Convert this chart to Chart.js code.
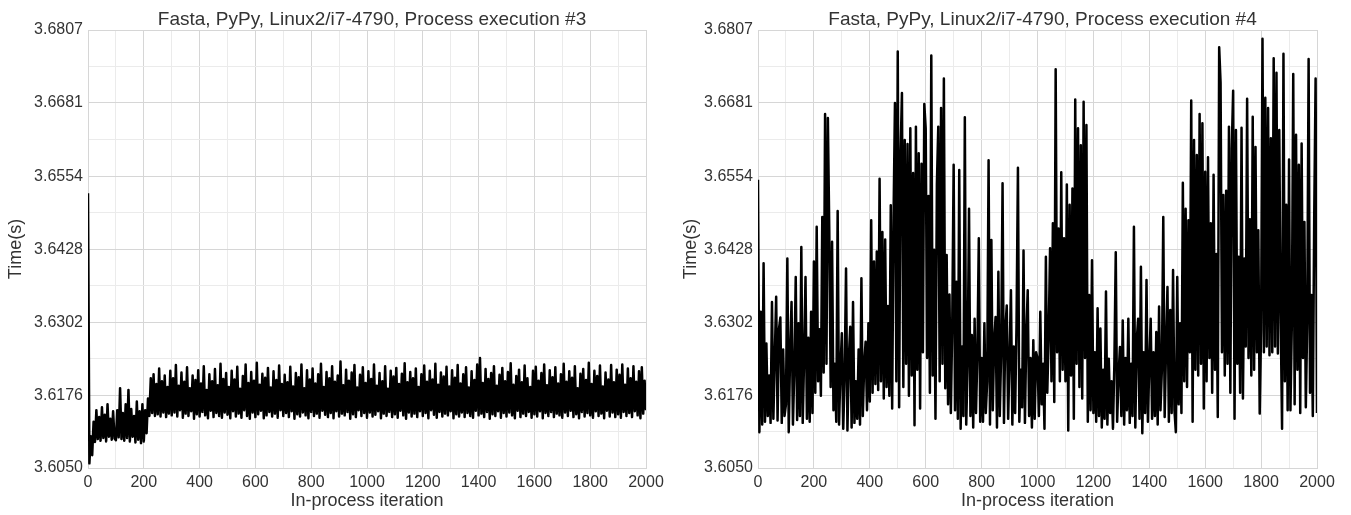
<!DOCTYPE html>
<html>
<head>
<meta charset="utf-8">
<script src="https://cdn.jsdelivr.net/npm/chart.js@4.4.1/dist/chart.umd.min.js"></script>
<style>
  body { margin: 0; background: #fff; }
  #wrap { position: relative; width: 1351px; height: 515px; }
  canvas { position: absolute; top: 0; }
  #exec3 { left: 0; }
  #exec4 { left: 675px; }
</style>
</head>
<body>
<div id="wrap">
  <canvas id="exec3" width="675" height="515"></canvas>
  <canvas id="exec4" width="676" height="515"></canvas>
</div>
<script>
// one value every iterStep iterations
const iterStep = 5;

const yTickLabels = ['3.6050', '3.6176', '3.6302', '3.6428', '3.6554', '3.6681', '3.6807'];
const xTickLabels = [0, 200, 400, 600, 800, 1000, 1200, 1400, 1600, 1800, 2000];

const titles = [
  'Fasta, PyPy, Linux2/i7-4790, Process execution #3',
  'Fasta, PyPy, Linux2/i7-4790, Process execution #4'
];

// Process execution #3
const exec3Times = [
  3.6525, 3.6058, 3.6105, 3.6072, 3.6130, 3.6095, 3.6150, 3.6100, 3.6138, 3.6097, 3.6155, 3.6102, 3.6142, 3.6096, 3.6160, 3.6104, 3.6135, 3.6099, 3.6148, 3.6101,
  3.6098, 3.6150, 3.6103, 3.6188, 3.6100, 3.6145, 3.6097, 3.6160, 3.6102, 3.6185, 3.6096, 3.6152, 3.6104, 3.6140, 3.6094, 3.6165, 3.6099, 3.6148, 3.6093, 3.6160,
  3.6096, 3.6150, 3.6110, 3.6170, 3.6140, 3.6205, 3.6145, 3.6212, 3.6140, 3.6195, 3.6143, 3.6222, 3.6139, 3.6200, 3.6146, 3.6210, 3.6138, 3.6190, 3.6144, 3.6218,
  3.6141, 3.6205, 3.6146, 3.6228, 3.6139, 3.6192, 3.6150, 3.6215, 3.6137, 3.6199, 3.6144, 3.6224, 3.6140, 3.6188, 3.6148, 3.6210, 3.6135, 3.6202, 3.6143, 3.6219,
  3.6139, 3.6196, 3.6147, 3.6226, 3.6141, 3.6185, 3.6136, 3.6212, 3.6149, 3.6200, 3.6138, 3.6221, 3.6145, 3.6193, 3.6140, 3.6230, 3.6137, 3.6204, 3.6146, 3.6214,
  3.6142, 3.6190, 3.6136, 3.6218, 3.6148, 3.6203, 3.6139, 3.6225, 3.6144, 3.6187, 3.6137, 3.6209, 3.6150, 3.6229, 3.6140, 3.6197, 3.6135, 3.6216, 3.6146, 3.6201,
  3.6138, 3.6232, 3.6143, 3.6194, 3.6149, 3.6213, 3.6136, 3.6206, 3.6141, 3.6223, 3.6147, 3.6189, 3.6139, 3.6217, 3.6144, 3.6202, 3.6137, 3.6227, 3.6150, 3.6195,
  3.6140, 3.6211, 3.6145, 3.6198, 3.6138, 3.6225, 3.6148, 3.6191, 3.6135, 3.6214, 3.6143, 3.6207, 3.6139, 3.6229, 3.6146, 3.6188, 3.6141, 3.6219, 3.6136, 3.6203,
  3.6147, 3.6222, 3.6140, 3.6196, 3.6144, 3.6212, 3.6137, 3.6230, 3.6149, 3.6190, 3.6142, 3.6216, 3.6138, 3.6205, 3.6145, 3.6226, 3.6136, 3.6199, 3.6148, 3.6210,
  3.6139, 3.6234, 3.6144, 3.6193, 3.6141, 3.6220, 3.6147, 3.6201, 3.6135, 3.6215, 3.6143, 3.6228, 3.6138, 3.6189, 3.6150, 3.6211, 3.6140, 3.6224, 3.6145, 3.6197,
  3.6137, 3.6217, 3.6146, 3.6204, 3.6139, 3.6229, 3.6142, 3.6192, 3.6148, 3.6214, 3.6136, 3.6200, 3.6144, 3.6226, 3.6140, 3.6187, 3.6147, 3.6218, 3.6138, 3.6208,
  3.6143, 3.6223, 3.6137, 3.6195, 3.6149, 3.6213, 3.6141, 3.6231, 3.6135, 3.6198, 3.6146, 3.6216, 3.6139, 3.6205, 3.6144, 3.6222, 3.6138, 3.6190, 3.6148, 3.6212,
  3.6140, 3.6227, 3.6145, 3.6199, 3.6136, 3.6218, 3.6150, 3.6203, 3.6142, 3.6230, 3.6137, 3.6194, 3.6147, 3.6215, 3.6139, 3.6208, 3.6144, 3.6225, 3.6141, 3.6191,
  3.6148, 3.6219, 3.6136, 3.6206, 3.6143, 3.6228, 3.6139, 3.6196, 3.6146, 3.6212, 3.6138, 3.6224, 3.6145, 3.6189, 3.6140, 3.6217, 3.6137, 3.6202, 3.6149, 3.6229,
  3.6141, 3.6240, 3.6144, 3.6197, 3.6138, 3.6221, 3.6147, 3.6204, 3.6135, 3.6214, 3.6143, 3.6226, 3.6140, 3.6192, 3.6148, 3.6211, 3.6137, 3.6223, 3.6145, 3.6200,
  3.6139, 3.6216, 3.6146, 3.6231, 3.6141, 3.6194, 3.6136, 3.6209, 3.6149, 3.6220, 3.6138, 3.6198, 3.6144, 3.6227, 3.6140, 3.6205, 3.6147, 3.6190, 3.6137, 3.6218,
  3.6143, 3.6225, 3.6139, 3.6201, 3.6148, 3.6214, 3.6136, 3.6229, 3.6145, 3.6193, 3.6140, 3.6219, 3.6147, 3.6207, 3.6138, 3.6224, 3.6144, 3.6196, 3.6141, 3.6212,
  3.6137, 3.6230, 3.6146, 3.6199, 3.6140, 3.6217, 3.6149, 3.6206, 3.6138, 3.6226, 3.6143, 3.6188, 3.6136, 3.6213, 3.6147, 3.6221, 3.6139, 3.6202, 3.6145, 3.6232,
  3.6141, 3.6195, 3.6137, 3.6218, 3.6148, 3.6209, 3.6140, 3.6227, 3.6144, 3.6191, 3.6136, 3.6215, 3.6149, 3.6203, 3.6139, 3.6228, 3.6146, 3.6198, 3.6138, 3.6220,
  3.6143, 3.6211, 3.6137, 3.6229, 3.6147, 3.6194, 3.6140, 3.6222, 3.6145, 3.6205, 3.6138, 3.6226, 3.6148, 3.6199, 3.6141, 3.6217, 3.6136, 3.6224, 3.6144, 3.6201,
  3.6150
];

// Process execution #4
const exec4Times = [
  3.6548, 3.6112, 3.6320, 3.6125, 3.6404, 3.6130, 3.6265, 3.6140, 3.6210, 3.6128, 3.6337, 3.6135, 3.6240, 3.6346, 3.6132, 3.6290, 3.6310, 3.6128, 3.6255, 3.6140,
  3.6160, 3.6412, 3.6112, 3.6250, 3.6337, 3.6125, 3.6220, 3.6380, 3.6133, 3.6300, 3.6140, 3.6432, 3.6128, 3.6240, 3.6380, 3.6135, 3.6275, 3.6130, 3.6320, 3.6145,
  3.6407, 3.6180, 3.6467, 3.6200, 3.6290, 3.6175, 3.6484, 3.6215, 3.6662, 3.6230, 3.6655, 3.6461, 3.6190, 3.6441, 3.6150, 3.6230, 3.6130, 3.6494, 3.6125, 3.6220,
  3.6283, 3.6118, 3.6210, 3.6395, 3.6115, 3.6240, 3.6294, 3.6120, 3.6337, 3.6128, 3.6200, 3.6135, 3.6255, 3.6125, 3.6378, 3.6140, 3.6230, 3.6268, 3.6150, 3.6300,
  3.6165, 3.6478, 3.6180, 3.6407, 3.6195, 3.6424, 3.6185, 3.6550, 3.6200, 3.6458, 3.6170, 3.6445, 3.6190, 3.6330, 3.6175, 3.6504, 3.6153, 3.6482, 3.6681, 3.6200,
  3.6770, 3.6155, 3.6591, 3.6698, 3.6190, 3.6617, 3.6230, 3.6610, 3.6175, 3.6637, 3.6210, 3.6560, 3.6124, 3.6640, 3.6220, 3.6594, 3.6153, 3.6576, 3.6250, 3.6679,
  3.6637, 3.6240, 3.6520, 3.6180, 3.6763, 3.6210, 3.6427, 3.6135, 3.6540, 3.6640, 3.6200, 3.6672, 3.6230, 3.6723, 3.6188, 3.6418, 3.6160, 3.6350, 3.6145, 3.6300,
  3.6574, 3.6150, 3.6372, 3.6135, 3.6565, 3.6118, 3.6260, 3.6140, 3.6656, 3.6125, 3.6230, 3.6498, 3.6140, 3.6280, 3.6120, 3.6308, 3.6145, 3.6250, 3.6447, 3.6130,
  3.6240, 3.6130, 3.6300, 3.6145, 3.6200, 3.6582, 3.6125, 3.6444, 3.6150, 3.6270, 3.6311, 3.6120, 3.6389, 3.6140, 3.6250, 3.6542, 3.6128, 3.6290, 3.6331, 3.6135,
  3.6240, 3.6357, 3.6125, 3.6260, 3.6145, 3.6300, 3.6569, 3.6130, 3.6220, 3.6155, 3.6426, 3.6128, 3.6280, 3.6357, 3.6140, 3.6240, 3.6120, 3.6271, 3.6135, 3.6250,
  3.6240, 3.6140, 3.6320, 3.6160, 3.6230, 3.6118, 3.6415, 3.6180, 3.6280, 3.6430, 3.6200, 3.6473, 3.6164, 3.6739, 3.6250, 3.6464, 3.6200, 3.6561, 3.6220, 3.6447,
  3.6200, 3.6540, 3.6115, 3.6505, 3.6210, 3.6533, 3.6135, 3.6687, 3.6230, 3.6637, 3.6190, 3.6608, 3.6170, 3.6683, 3.6240, 3.6643, 3.6130, 3.6349, 3.6150, 3.6409,
  3.6145, 3.6250, 3.6130, 3.6326, 3.6140, 3.6291, 3.6120, 3.6220, 3.6135, 3.6355, 3.6125, 3.6239, 3.6145, 3.6200, 3.6118, 3.6230, 3.6423, 3.6130, 3.6210, 3.6259,
  3.6140, 3.6305, 3.6125, 3.6240, 3.6150, 3.6308, 3.6128, 3.6230, 3.6140, 3.6467, 3.6120, 3.6270, 3.6308, 3.6135, 3.6398, 3.6110, 3.6250, 3.6145, 3.6375, 3.6130,
  3.6230, 3.6308, 3.6135, 3.6250, 3.6140, 3.6285, 3.6125, 3.6329, 3.6150, 3.6220, 3.6484, 3.6138, 3.6260, 3.6363, 3.6130, 3.6323, 3.6145, 3.6392, 3.6150, 3.6112,
  3.6380, 3.6160, 3.6300, 3.6145, 3.6543, 3.6200, 3.6498, 3.6190, 3.6478, 3.6250, 3.6685, 3.6130, 3.6617, 3.6220, 3.6591, 3.6210, 3.6662, 3.6230, 3.6646, 3.6153,
  3.6562, 3.6200, 3.6587, 3.6240, 3.6473, 3.6180, 3.6557, 3.6220, 3.6420, 3.6138, 3.6777, 3.6716, 3.6250, 3.6522, 3.6210, 3.6529, 3.6230, 3.6640, 3.6180, 3.6602,
  3.6702, 3.6135, 3.6634, 3.6230, 3.6415, 3.6180, 3.6638, 3.6170, 3.6412, 3.6260, 3.6688, 3.6240, 3.6480, 3.6210, 3.6657, 3.6220, 3.6605, 3.6250, 3.6461, 3.6144,
  3.6290, 3.6792, 3.6250, 3.6690, 3.6260, 3.6672, 3.6245, 3.6620, 3.6250, 3.6758, 3.6260, 3.6733, 3.6248, 3.6634, 3.6314, 3.6118, 3.6766, 3.6200, 3.6505, 3.6150,
  3.6583, 3.6150, 3.6300, 3.6731, 3.6160, 3.6626, 3.6220, 3.6574, 3.6145, 3.6611, 3.6240, 3.6475, 3.6155, 3.6300, 3.6757, 3.6180, 3.6349, 3.6140, 3.6481, 3.6723,
  3.6145
];

const font = '"Liberation Sans", Arial, sans-serif';
const textColor = '#333';
const majorGrid = '#d6d6d6';
const minorGrid = '#ebebeb';

// major ticks from the label lists, a minor one halfway between each pair
function withMinor(majors) {
  let out = [];
  majors.forEach(function (v, i) {
    out.push({ value: v, isMajor: true });
    if (i < majors.length - 1) out.push({ value: (v + majors[i + 1]) / 2, isMajor: false });
  });
  return out;
}

const panelTitle = {
  id: 'panelTitle',
  afterDraw(chart, args, opts) {
    const ctx = chart.ctx;
    const area = chart.chartArea;
    ctx.save();
    ctx.font = '19px ' + font;
    ctx.fillStyle = textColor;
    ctx.textAlign = 'center';
    ctx.textBaseline = 'alphabetic';
    ctx.fillText(opts.text, (area.left + area.right) / 2 + 5, 25);
    ctx.restore();
  }
};

function makeChart(id, times, title, axisWidth, padRight) {
  const points = times.map(function (t, i) { return { x: i * iterStep, y: t }; });
  return new Chart(document.getElementById(id), {
    type: 'line',
    data: {
      datasets: [{
        data: points,
        borderColor: '#000',
        borderWidth: 2.5,
        borderJoinStyle: 'round',
        pointRadius: 0,
        tension: 0,
        fill: false
      }]
    },
    options: {
      responsive: false,
      animation: false,
      events: [],
      layout: { padding: { top: 30, right: padRight, left: 0, bottom: 0 } },
      plugins: {
        legend: { display: false },
        tooltip: { enabled: false },
        title: { display: false },
        panelTitle: { text: title }
      },
      scales: {
        x: {
          type: 'linear',
          min: 0,
          max: 2000,
          afterBuildTicks: function (scale) { scale.ticks = withMinor(xTickLabels); },
          afterFit: function (scale) { scale.height = 47; },
          ticks: {
            autoSkip: false,
            maxRotation: 0,
            padding: 5,
            color: textColor,
            font: { family: font, size: 16 },
            callback: function (value, index, ticks) { return ticks[index].isMajor ? String(value) : ''; }
          },
          grid: {
            drawTicks: false,
            color: function (c) { return c.tick && c.tick.isMajor ? majorGrid : minorGrid; }
          },
          border: { color: majorGrid },
          title: {
            display: true,
            text: 'In-process iteration',
            color: textColor,
            font: { family: font, size: 18 },
            padding: { top: 0, bottom: 3 }
          }
        },
        y: {
          type: 'linear',
          min: 3.6050,
          max: 3.6807,
          afterBuildTicks: function (scale) { scale.ticks = withMinor(yTickLabels.map(Number)); },
          afterFit: function (scale) { scale.width = axisWidth; },
          ticks: {
            autoSkip: false,
            padding: 5,
            color: textColor,
            font: { family: font, size: 16 },
            callback: function (value, index, ticks) { return ticks[index].isMajor ? yTickLabels[index / 2] : ''; }
          },
          grid: {
            drawTicks: false,
            color: function (c) { return c.tick && c.tick.isMajor ? majorGrid : minorGrid; }
          },
          border: { color: majorGrid },
          title: {
            display: true,
            text: 'Time(s)',
            color: textColor,
            font: { family: font, size: 18 },
            padding: { top: 5, bottom: 0 }
          }
        }
      }
    },
    plugins: [panelTitle]
  });
}

makeChart('exec3', exec3Times, titles[0], 88, 29);
makeChart('exec4', exec4Times, titles[1], 83, 34);
</script>
</body>
</html>
